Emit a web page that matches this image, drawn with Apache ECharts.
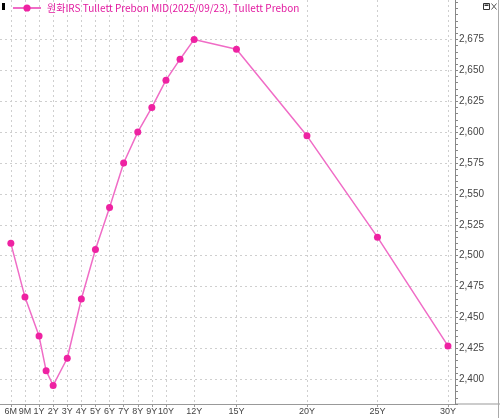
<!DOCTYPE html>
<html><head><meta charset="utf-8">
<script src="https://cdn.jsdelivr.net/npm/echarts@6/dist/echarts.min.js"></script>
<style>html,body{margin:0;padding:0;background:#fff}#c{width:500px;height:418px}</style>
</head><body><div id="c"></div>
<script>
// Tenor positions on the chart's x scale (6M and 9M occupy one step each before 1Y)
const curveTenors = [-1, 0, 1, 1.5, 2, 3, 4, 5, 6, 7, 8, 9, 10, 11, 12, 15, 20, 25, 30];
const curveValues = [2.510, 2.4665, 2.435, 2.407, 2.395, 2.417, 2.465, 2.505, 2.539, 2.575, 2.600, 2.620, 2.642, 2.659, 2.675, 2.667, 2.597, 2.515, 2.427];
const xTickPositions = [-1, 0, 1, 2, 3, 4, 5, 6, 7, 8, 9, 10, 12, 15, 20, 25, 30];
const xTickLabels = ['6M','9M','1Y','2Y','3Y','4Y','5Y','6Y','7Y','8Y','9Y','10Y','12Y','15Y','20Y','25Y','30Y'];
const yLabelValues = [2.400, 2.425, 2.450, 2.475, 2.500, 2.525, 2.550, 2.575, 2.600, 2.625, 2.650, 2.675];
const yMinorTickValues = [];
for (let k = 476; k <= 541; k++) yMinorTickValues.push(+(k * 0.005).toFixed(3));
const seriesName = '원화IRS Tullett Prebon MID(2025/09/23), Tullett Prebon';

const FONT = "'Liberation Sans Narrow', 'Liberation Sans', 'Noto Sans CJK KR', sans-serif";
const chart = echarts.init(document.getElementById('c'), null, {renderer: 'canvas'});
const grid = {left: 0, top: 0, width: 455, height: 404};
const yMin = 2.38, yMax = 2.7069;
chart.setOption({
  animation: false,
  backgroundColor: '#fff',
  grid: grid,
  legend: {
    left: 7, top: -2, itemWidth: 28, itemHeight: 9, itemGap: 6,
    textStyle: {color: '#e21ba0', fontSize: 10, fontFamily: "'Noto Sans CJK KR', sans-serif", padding: [0,0,0,1]},
    data: [seriesName]
  },
  xAxis: {
    type: 'value', min: -1.77, max: 30.5,
    axisLine: {show: true, lineStyle: {color: '#999', width: 1}},
    axisTick: {show: true, length: 3, customValues: xTickPositions, lineStyle: {color: '#999'}},
    axisLabel: {
      customValues: xTickPositions, margin: 3, color: '#444', fontSize: 9, fontFamily: FONT,
      showMinLabel: true, showMaxLabel: true, hideOverlap: false,
      formatter: v => { const i = xTickPositions.indexOf(Math.round(v*10)/10); return i >= 0 ? xTickLabels[i] : ''; }
    },
    splitLine: {show: true, lineStyle: {color: '#cfcfcf', type: [2, 3], width: 1}}
  },
  yAxis: [{
    type: 'value', position: 'right', min: yMin, max: yMax,
    axisLine: {show: true, onZero: false, lineStyle: {color: '#888', width: 1}},
    axisTick: {show: true, length: 3, customValues: yMinorTickValues, lineStyle: {color: '#888'}},
    axisLabel: {
      customValues: yLabelValues, margin: 4, color: '#444', fontSize: 10, fontFamily: FONT,
      formatter: v => v.toFixed(3).replace('.', ',')
    },
    splitLine: {show: false}
  }, {
    type: 'value', position: 'right', min: yMin, max: yMax,
    axisLine: {show: false}, axisLabel: {show: false},
    axisTick: {show: false, customValues: yLabelValues},
    splitLine: {show: true, lineStyle: {color: '#cfcfcf', type: [2, 3], width: 1}}
  }],
  series: [{
    name: seriesName, type: 'line', yAxisIndex: 0,
    data: curveTenors.map((t, i) => [t, curveValues[i]]),
    symbol: 'circle', symbolSize: 7,
    lineStyle: {color: '#f06cc6', width: 1.5},
    itemStyle: {color: '#ee22a2'},
    clip: true
  }],
  graphic: [
    {type: 'rect', shape: {x: 2, y: 3, width: 3, height: 7}, style: {fill: '#000'}},
    {type: 'line', shape: {x1: 455, y1: 404, x2: 500, y2: 404}, style: {stroke: '#999', lineWidth: 1}},
    {type: 'line', shape: {x1: 498.5, y1: 0, x2: 498.5, y2: 418}, style: {stroke: '#aaa', lineWidth: 1}},
    {type: 'rect', shape: {x: 483.5, y: 3.5, width: 6, height: 6}, style: {fill: 'none', stroke: '#333', lineWidth: 1}},
    {type: 'rect', shape: {x: 484.5, y: 4.5, width: 4, height: 1.5}, style: {fill: '#333'}},
    {type: 'line', shape: {x1: 491.5, y1: 3.5, x2: 496.5, y2: 9.5}, style: {stroke: '#555', lineWidth: 1}},
    {type: 'line', shape: {x1: 496.5, y1: 3.5, x2: 491.5, y2: 9.5}, style: {stroke: '#555', lineWidth: 1}}
  ]
});
</script></body></html>
